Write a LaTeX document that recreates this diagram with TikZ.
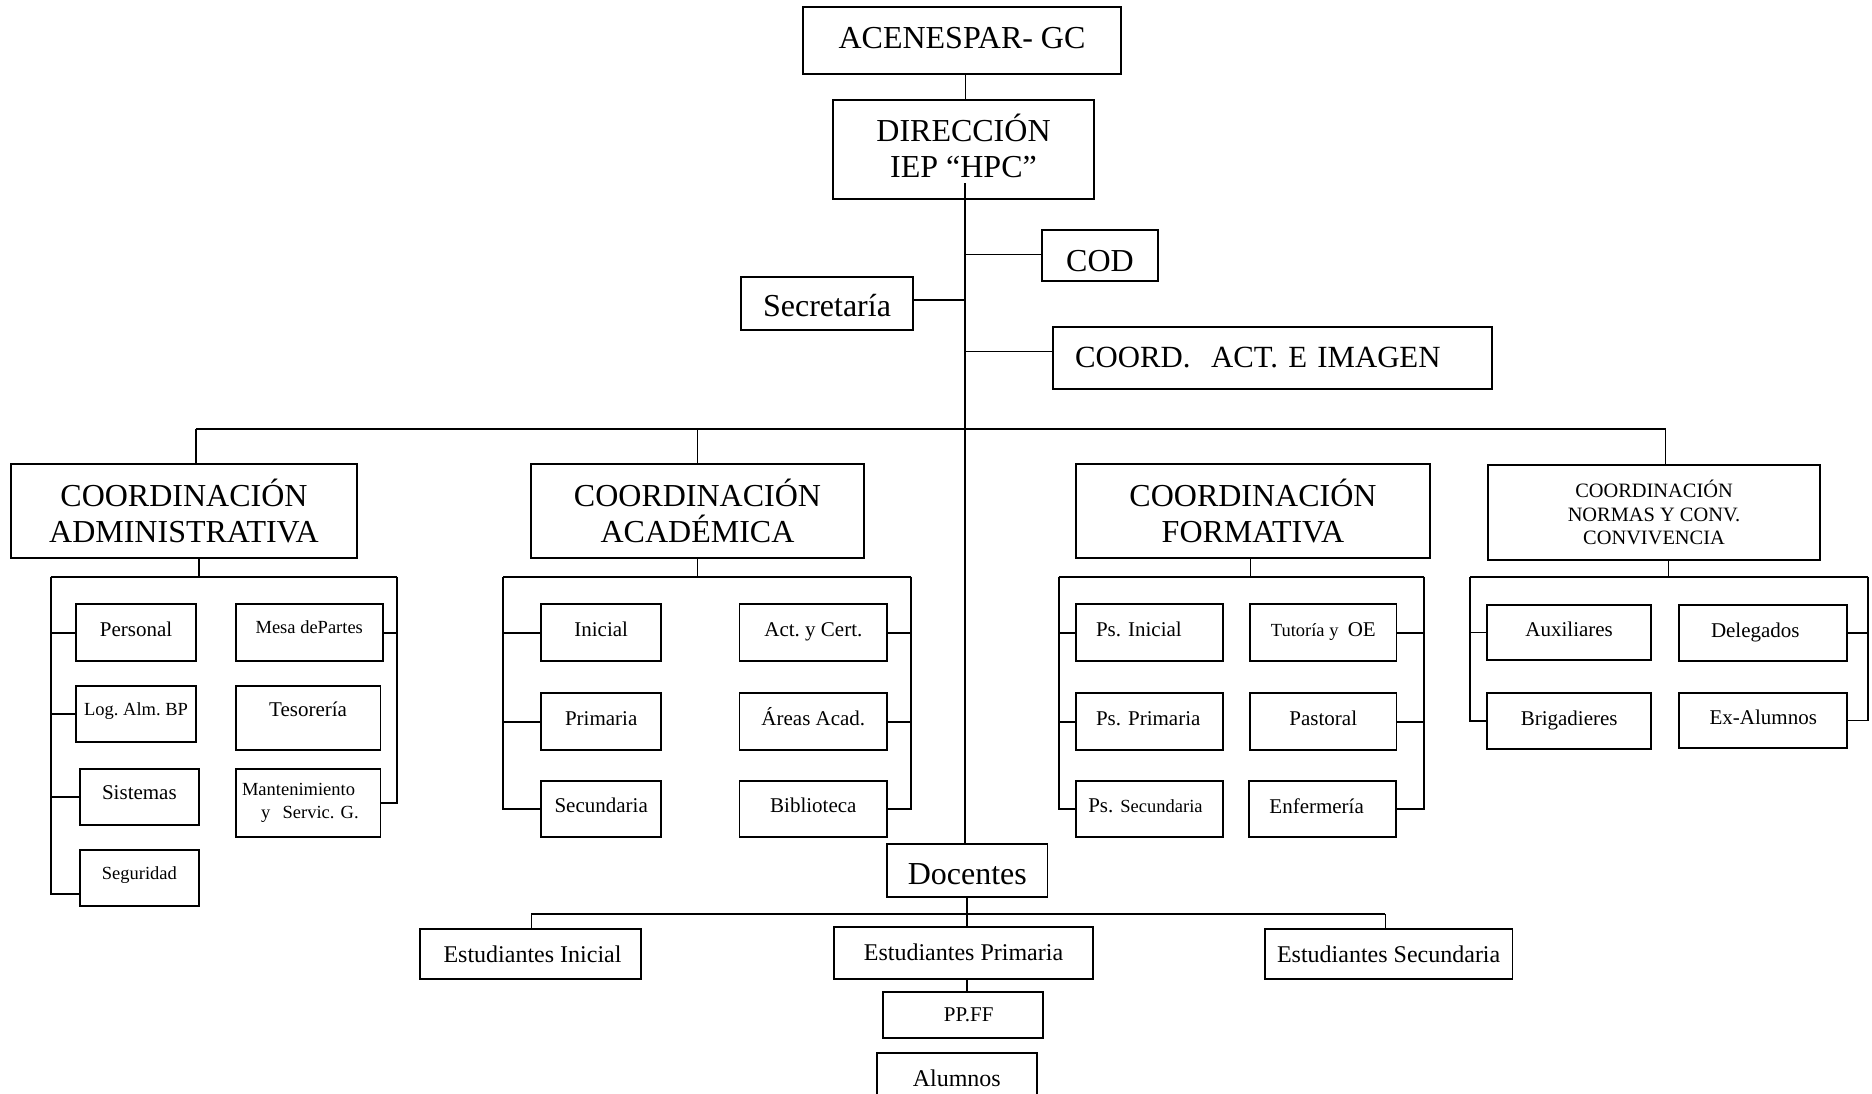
\documentclass[tikz,border=0pt]{standalone}
\usepackage{fontspec}
\setmainfont{Liberation Serif}
\usetikzlibrary{calc}
\frenchspacing
\newcommand\fntA{\fontsize{32}{36}\selectfont}
\newcommand\fntAc{\fontsize{30.8}{36}\selectfont}
\newcommand\fntN{\fontsize{20.4}{23.5}\selectfont}
\newcommand\fntS{\fontsize{21}{24}\selectfont}
\newcommand\fntsm{\fontsize{18.5}{22.5}\selectfont}
\newcommand\fntE{\fontsize{24}{28}\selectfont}
% opts, name, x1, y1, x2, y2, text
\newcommand\orgbox[7][]{%
  \node[box,minimum width={(#5-#3)*1pt},minimum height={(#6-#4)*1pt},#1] (#2) at ({(#3+#5)/2},{(#4+#6)/2}) {#7};}
\begin{document}
\begin{tikzpicture}[x=1pt,y=-1pt,
  box/.style={draw,line width=1.8pt,inner sep=0pt,align=center,font=\fntS},
  sm/.style={text height=14pt,text depth=6pt},
  ln/.style={line width=1.8pt},
  thn/.style={line width=1.4pt}]
\clip (0,0) rectangle (1872,1094);
\fill[white] (0,0) rectangle (1872,1094);

% top
\orgbox[font=\fntA,text height=17pt,text depth=0.8pt]{acen}{803}{7}{1121}{74}{ACENESPAR- GC}
\orgbox[font=\fntA]{dir}{833}{100}{1094}{199}{DIRECCIÓN\\IEP “HPC”\rule[-7pt]{0pt}{7pt}}
\orgbox[font=\fntA,text height=33pt,text depth=0.6pt]{cod}{1042}{230}{1158}{281}{COD}
\orgbox[font=\fntA,text height=27pt,text depth=0.6pt]{sec}{741}{277}{913}{330}{Secretaría}
\orgbox[font=\fntAc,align=left,text width=395pt]{cai}{1053}{327}{1492}{389}{\mbox{COORD.\ \ ACT. E IMAGEN}}

% level 2
\orgbox[font=\fntA]{adm}{11}{464}{357}{558}{COORDINACIÓN\\ADMINISTRATIVA}
\orgbox[font=\fntA]{aca}{531}{464}{864}{558}{COORDINACIÓN\\ACADÉMICA}
\orgbox[font=\fntA]{frm}{1076}{464}{1430}{558}{COORDINACIÓN\\FORMATIVA}
\orgbox[font=\fntN]{nor}{1488}{465}{1820}{560}{COORDINACIÓN\\NORMAS Y CONV.\\CONVIVENCIA}

% admin children
\orgbox[sm]{pers}{76.3}{604.3}{195.7}{661}{Personal}
\orgbox[font=\fntsm,text height=14pt,text depth=11.4pt]{logi}{76.3}{685.7}{195.7}{741.7}{Log. Alm. BP}
\orgbox[text height=14pt,text depth=8pt]{sis}{79.9}{768.7}{198.9}{825}{Sistemas}
\orgbox[font=\fntsm,text height=14pt,text depth=10.8pt]{seg}{79.9}{850}{198.9}{905.7}{Seguridad}
\orgbox[font=\fntsm,text height=14pt,text depth=12.8pt]{mesa}{235.7}{604.3}{382.8}{661}{Mesa dePartes}
\orgbox[text height=14pt,text depth=16.6pt]{tes}{235.7}{685.7}{380.4}{750}{Tesorería}
\orgbox[font=\fntsm,align=left,text width=132pt]{man}{235.7}{769}{380.4}{836.7}{Mantenimiento\\\hspace*{19pt}y\ \ Servic. G.}

% academic children
\orgbox[sm]{ini}{541.3}{604.3}{661.1}{661}{Inicial}
\orgbox[sm]{pri}{541.3}{693.3}{661.1}{750}{Primaria}
\orgbox[sm]{secu}{541.3}{780.7}{661.1}{836.7}{Secundaria}
\orgbox[sm]{act}{739.4}{604.3}{887.3}{661}{Act. y Cert.}
\orgbox[sm]{are}{739.4}{693.3}{887.3}{750}{Áreas Acad.}
\orgbox[sm]{bib}{739.4}{780.7}{887.3}{836.7}{Biblioteca}

% formativa children
\orgbox[sm,align=left,text width=107pt]{psi}{1076.1}{604.3}{1223}{661}{\mbox{Ps. Inicial}}
\orgbox[sm]{tut}{1250.1}{604.3}{1396.5}{661}{{\fntsm Tutoría y\ \ }OE}
\orgbox[sm,align=left,text width=107pt]{psp}{1076.1}{693.3}{1223}{750}{\mbox{Ps. Primaria}}
\orgbox[sm]{pas}{1250.1}{693.3}{1396.5}{750}{Pastoral}
\orgbox[sm,align=left,text width=121.8pt]{pss}{1075.7}{781}{1222.7}{836.7}{\mbox{Ps. {\fntsm Secundaria}}}
\orgbox[sm]{enf}{1249.3}{781}{1396}{837}{Enfermería\hspace*{12pt}}

% normas children
\orgbox[sm]{aux}{1487.3}{605}{1651}{660}{Auxiliares}
\orgbox[sm]{dele}{1679.3}{605}{1847.3}{661}{Delegados\hspace*{16pt}}
\orgbox[sm]{bri}{1487.3}{693.3}{1651}{748.7}{Brigadieres}
\orgbox[sm]{exa}{1679.3}{693.3}{1847.3}{747.7}{Ex-Alumnos}

% bottom
\orgbox[font=\fntA,text height=28pt,text depth=0pt]{doc}{887.3}{844}{1047.4}{897.3}{Docentes}
\orgbox[font=\fntE]{esi}{419.9}{929}{641.1}{979}{\hspace*{4pt}Estudiantes Inicial}
\orgbox[font=\fntE]{esp}{833.7}{926.7}{1093.3}{978.7}{Estudiantes Primaria}
\orgbox[font=\fntE]{ess}{1264.9}{929}{1512.4}{979}{Estudiantes Secundaria}
\orgbox{ppf}{882.6}{992.3}{1042.9}{1038}{\hspace*{12pt}PP.FF}
\orgbox[font=\fntE]{alu}{876.6}{1052.7}{1036.9}{1104.3}{Alumnos}

% ---- connectors: top
\coordinate (mx) at (965.5,0);
\draw[thn] (acen.south -| mx) -- (dir.north -| mx);
\coordinate (mv0) at (965,183.3);
\coordinate (bus) at (965,429);
\draw[thn] (mv0) -- (bus);
\coordinate (jc) at (965,254.3);
\coordinate (js) at (965,300);
\coordinate (ji) at (965,351.3);
\draw[thn] (jc) -- (jc -| cod.west);
\draw[ln] (js) -- (js -| sec.east);
\draw[thn] (ji) -- (ji -| cai.west);

% main bus
\coordinate (bL) at (195.8,429);
\coordinate (bR) at (1665.5,429);
\draw[ln] (bL) -- (bR);
\draw[thn] (bL) -- (bL |- adm.north);
\draw[thn] (bus -| aca.north) -- (aca.north);
\draw[thn] (bR) -- (bR |- nor.north);
\draw[line width=1.2pt] (bus) -- (bus |- doc.north);

% admin bracket
\coordinate (aT) at (199,576.7);
\coordinate (aL) at (50.6,576.7);
\coordinate (aR) at (396.6,576.7);
\coordinate (aLb) at (50.6,894);
\draw[thn] (aT |- adm.south) -- (aT);
\draw[ln] (aL) -- (aR);
\draw[ln] (aL) -- (aLb) -- (aLb -| seg.west);
\draw[ln] (aL |- pers.west) -- (pers.west);
\draw[ln] (aL |- logi.west) -- (logi.west);
\draw[ln] (aL |- sis.west) -- (sis.west);
\draw[ln] (aR) -- (aR |- man.east) -- (man.east);
\draw[ln] (mesa.east) -- (mesa.east -| aR);

% academic bracket
\coordinate (cL) at (502.9,576.7);
\coordinate (cR) at (911,576.7);
\draw[thn] (aca.south) -- (aca.south |- cL);
\draw[ln] (cL) -- (cR);
\draw[ln] (cL) -- (cL |- secu.west) -- (secu.west);
\draw[ln] (cL |- ini.west) -- (ini.west);
\draw[ln] (cL |- pri.west) -- (pri.west);
\draw[ln] (cR) -- (cR |- bib.east) -- (bib.east);
\draw[ln] (act.east) -- (act.east -| cR);
\draw[ln] (are.east) -- (are.east -| cR);

% formativa bracket
\coordinate (fT) at (1250.6,576.7);
\coordinate (fL) at (1058.6,576.7);
\coordinate (fR) at (1424.2,576.7);
\draw[thn] (fT |- frm.south) -- (fT);
\draw[ln] (fL) -- (fR);
\draw[ln] (fL) -- (fL |- pss.west) -- (pss.west);
\draw[ln] (fL |- psi.west) -- (psi.west);
\draw[ln] (fL |- psp.west) -- (psp.west);
\draw[ln] (fR) -- (fR |- enf.east) -- (enf.east);
\draw[ln] (tut.east) -- (tut.east -| fR);
\draw[ln] (pas.east) -- (pas.east -| fR);

% normas bracket
\coordinate (nT) at (1668.6,576.7);
\coordinate (nL) at (1470,576.7);
\coordinate (nR) at (1868.3,576.7);
\draw[thn] (nT |- nor.south) -- (nT);
\draw[ln] (nL) -- (nR);
\draw[ln] (nL) -- (nL |- bri.west) -- (bri.west);
\draw[ln] (nL |- aux.west) -- (aux.west);
\draw[ln] (nR) -- (nR |- exa.east) -- (exa.east);
\draw[ln] (dele.east) -- (dele.east -| nR);

% docentes
\coordinate (dB) at (967,914);
\coordinate (dBL) at (531.2,914);
\coordinate (dBR) at (1385.3,914);
\draw[thn] (doc.south -| dB) -- (dB);
\draw[ln] (dBL) -- (dBR);
\draw[thn] (dBL) -- (dBL |- esi.north);
\draw[thn] (dB) -- (dB |- esp.north);
\draw[thn] (dBR) -- (dBR |- ess.north);
\draw[thn] (esp.south -| dB) -- (ppf.north -| dB);
\end{tikzpicture}
\end{document}
